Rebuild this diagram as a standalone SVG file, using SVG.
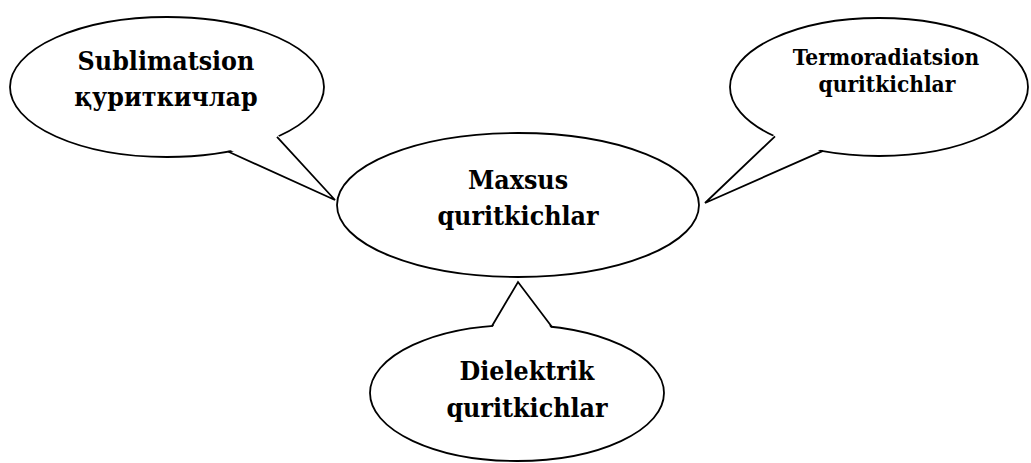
<svg xmlns="http://www.w3.org/2000/svg" width="1031" height="463" viewBox="0 0 1031 463">
<style>
.shape{fill:#fff;stroke:#000;stroke-width:1.8;stroke-linejoin:miter}
.cover{fill:#fff;stroke:none}
.tail{fill:none;stroke:#000;stroke-width:1.8;stroke-linejoin:miter}
text{font-family:"DejaVu Serif","Liberation Serif",serif;font-stretch:condensed;font-weight:bold;fill:#000;text-anchor:middle}
.big{font-size:26.5px}
.small{font-size:22.5px}
</style>
<rect width="1031" height="463" fill="#fff"/>
<g id="node-sublimatsion">
<ellipse class="shape" cx="167" cy="87" rx="157" ry="70"/>
<text class="big" x="166" y="70">Sublimatsion</text>
<text class="big" x="166" y="106">қуриткичлар</text>
</g>
<g id="node-termoradiatsion">
<ellipse class="shape" cx="879" cy="87" rx="149" ry="69"/>
<text class="small" x="886" y="65">Termoradiatsion</text>
<text class="small" x="887" y="92">quritkichlar</text>
</g>
<g id="node-maxsus">
<ellipse class="shape" cx="518" cy="205" rx="181" ry="72"/>
<text class="big" x="518" y="189">Maxsus</text>
<text class="big" x="518" y="225">quritkichlar</text>
</g>
<g id="node-dielektrik">
<ellipse class="shape" cx="517" cy="393" rx="147" ry="68"/>
<text class="big" x="527" y="380">Dielektrik</text>
<text class="big" x="527" y="417">quritkichlar</text>
</g>
<g id="connectors">
<polygon class="cover" points="228,149 335,200 277,134"/>
<polyline class="tail" points="228,151.5 335,200 277,136.9"/>
<polygon class="cover" points="775,134 705,203 823,148.5"/>
<polyline class="tail" points="775,136.4 705,203 823,150.9"/>
<polygon class="cover" points="492,328.5 518,282 552,329.5"/>
<polyline class="tail" points="492,326 518,282 552,327"/>
</g>
</svg>
